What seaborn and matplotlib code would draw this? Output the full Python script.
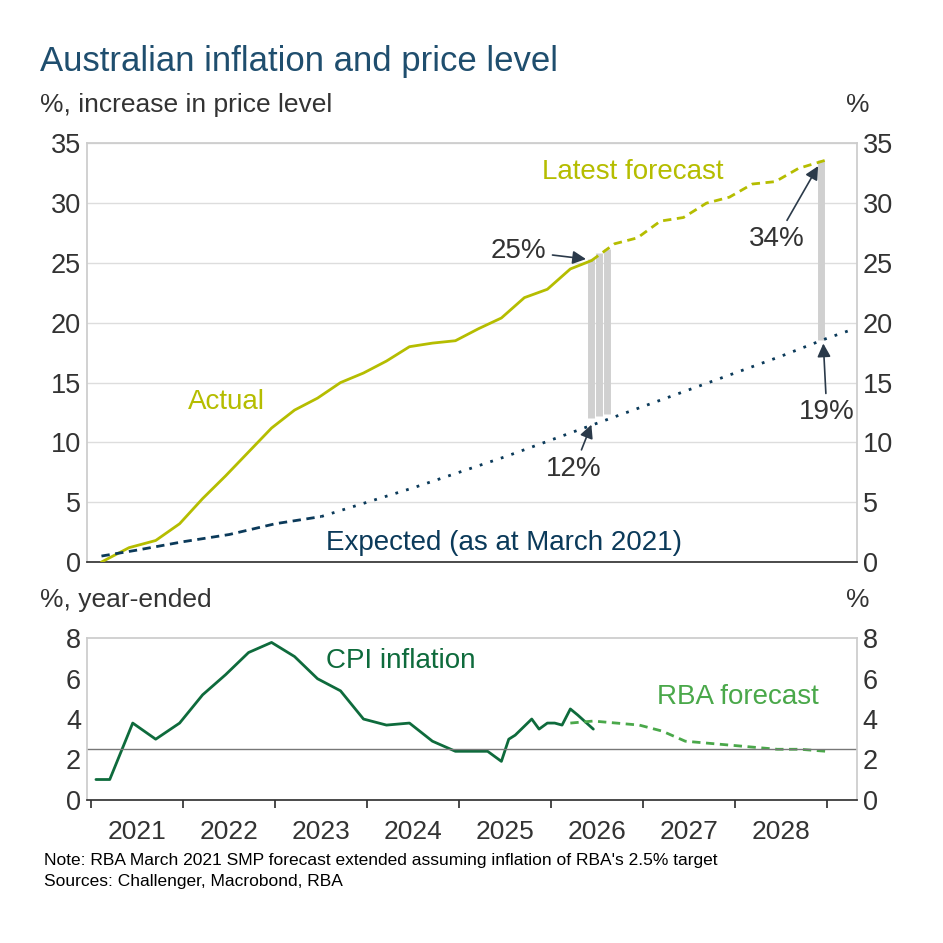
import matplotlib
matplotlib.use("Agg")
import matplotlib.pyplot as plt
import seaborn as sns
import pandas as pd

sns.set_theme(style="white")
plt.rcParams['font.family'] = ['Liberation Sans', 'DejaVu Sans']

actual_x = [2021.11,2021.41,2021.70,2021.96,2022.21,2022.46,2022.71,2022.96,2023.21,2023.46,2023.71,2023.96,2024.21,2024.46,2024.71,2024.96,2025.21,2025.46,2025.71,2025.96,2026.21,2026.44]
actual_y = [0,1.2,1.8,3.2,5.3,7.2,9.2,11.2,12.7,13.7,15.0,15.8,16.8,18.0,18.3,18.5,19.5,20.4,22.1,22.8,24.5,25.2]
fc_x = [2026.44,2026.69,2026.94,2027.19,2027.44,2027.69,2027.94,2028.19,2028.44,2028.69,2028.99]
fc_y = [25.2,26.6,27.1,28.5,28.8,30.0,30.5,31.6,31.8,32.9,33.6]
exp_dash_x = [2021.11,2021.5,2022.0,2022.5,2023.0,2023.5]
exp_dash_y = [0.5,1.0,1.7,2.3,3.2,3.8]
exp_dot_x = [2023.5,2024.0,2024.5,2025.0,2025.5,2026.0,2026.5,2027.0,2027.5,2028.0,2028.5,2029.0,2029.3]
exp_dot_y = [3.8,5.0,6.2,7.5,8.8,10.2,11.6,13.0,14.4,15.8,17.2,18.7,19.5]
gap_x = [2026.44,2026.52,2026.61,2028.94]
gap_lo = [12.0,12.2,12.4,18.6]
gap_hi = [25.3,25.8,26.2,33.6]

cpi_x = [2021.05,2021.2,2021.45,2021.7,2021.96,2022.21,2022.46,2022.71,2022.96,2023.21,2023.46,2023.71,2023.96,2024.21,2024.46,2024.71,2024.96,2025.21,2025.31,2025.46,2025.54,2025.61,2025.7,2025.79,2025.87,2025.96,2026.04,2026.12,2026.21,2026.29,2026.46]
cpi_y = [1.0,1.0,3.8,3.0,3.8,5.2,6.2,7.3,7.8,7.1,6.0,5.4,4.0,3.7,3.8,2.9,2.4,2.4,2.4,1.9,3.0,3.2,3.6,4.0,3.5,3.8,3.8,3.7,4.5,4.2,3.5]
rba_x = [2026.21,2026.46,2026.71,2026.96,2027.21,2027.46,2027.71,2027.96,2028.21,2028.46,2028.71,2028.99]
rba_y = [3.8,3.9,3.8,3.7,3.4,2.9,2.8,2.7,2.6,2.5,2.5,2.4]
years = [2021,2022,2023,2024,2025,2026,2027,2028]

olive = "#b5bd00"; navy = "#0b3a5a"; green = "#0e6b3c"; lgreen = "#4aa84a"; txt = "#333333"
fig = plt.figure(figsize=(9.43, 9.43), dpi=100)
ax1 = fig.add_axes([0.092, 0.404, 0.817, 0.444])
ax2 = fig.add_axes([0.092, 0.152, 0.817, 0.171])
xl = (2020.95, 2029.33)

for i in range(len(gap_x)):
    ax1.vlines(gap_x[i], gap_lo[i], gap_hi[i], color="#d0d0d0", lw=5, zorder=1)
sns.lineplot(x=actual_x, y=actual_y, ax=ax1, color=olive, lw=2, zorder=3)
sns.lineplot(x=fc_x, y=fc_y, ax=ax1, color=olive, lw=2, ls=(0,(3,2)), zorder=3)
sns.lineplot(x=exp_dash_x, y=exp_dash_y, ax=ax1, color=navy, lw=2, ls=(0,(3,2)), zorder=3)
sns.lineplot(x=exp_dot_x, y=exp_dot_y, ax=ax1, color=navy, lw=2, ls=(0,(1,3)), zorder=3)
ax1.set_xlim(*xl); ax1.set_ylim(0, 35)
ax1.set_yticks(range(0, 36, 5))
ax1.grid(axis="y", color="#dddddd", lw=1)
ax1.set_xticks([])

sns.lineplot(x=cpi_x, y=cpi_y, ax=ax2, color=green, lw=2)
sns.lineplot(x=rba_x, y=rba_y, ax=ax2, color=lgreen, lw=2, ls=(0,(3,2)))
ax2.axhline(2.5, color="#777777", lw=1)
ax2.set_xlim(*xl); ax2.set_ylim(0, 8)
ax2.set_yticks(range(0, 9, 2))
ax2.set_xticks(range(2021, 2030))
ax2.set_xticklabels([])
ax2.tick_params(axis="x", direction="out", length=6, color="#333333", bottom=True)
for y in years:
    ax2.text(y + 0.5, -1.0, str(y), ha="center", va="top", fontsize=19, color=txt)

for ax in (ax1, ax2):
    for s in ax.spines.values():
        s.set_color("#cccccc")
    ax.spines["bottom"].set_color("#333333")
    ax.tick_params(axis="y", labelsize=19.5, labelcolor=txt, length=0, pad=4)
    tw = ax.twinx(); tw.set_ylim(ax.get_ylim()); tw.set_yticks(ax.get_yticks())
    tw.tick_params(axis="y", labelsize=19.5, labelcolor=txt, length=0, pad=4)
    for s in tw.spines.values():
        s.set_visible(False)

fig.text(0.042, 0.935, "Australian inflation and price level", fontsize=25, color="#1f4e6e", va="center")
fig.text(0.042, 0.889, "%, increase in price level", fontsize=19, color=txt, va="center")
fig.text(0.91, 0.889, "%", fontsize=19, color=txt, va="center", ha="center")
fig.text(0.042, 0.364, "%, year-ended", fontsize=19, color=txt, va="center")
fig.text(0.91, 0.364, "%", fontsize=19, color=txt, va="center", ha="center")
fig.text(0.047, 0.083, "Note: RBA March 2021 SMP forecast extended assuming inflation of RBA's 2.5% target", fontsize=12.5, color="black")
fig.text(0.047, 0.060, "Sources: Challenger, Macrobond, RBA", fontsize=12.5, color="black")

ax1.text(2022.05, 12.8, "Actual", color=olive, fontsize=20)
ax1.text(2025.9, 32.0, "Latest forecast", color=olive, fontsize=20)
ax1.text(2023.55, 1.0, "Expected (as at March 2021)", color=navy, fontsize=20)
arr = dict(arrowstyle="-|>", color="#2b3a4a", lw=1.2)
ax1.annotate("25%", xy=(2026.41, 25.3), xytext=(2025.95, 26.0), fontsize=20, color=txt, ha="right", va="center", arrowprops=arr)
ax1.annotate("12%", xy=(2026.45, 11.7), xytext=(2026.25, 7.8), fontsize=20, color=txt, ha="center", va="center", arrowprops=arr)
ax1.annotate("34%", xy=(2028.92, 33.3), xytext=(2028.45, 27.0), fontsize=20, color=txt, ha="center", va="center", arrowprops=arr)
ax1.annotate("19%", xy=(2028.96, 18.5), xytext=(2029.0, 12.5), fontsize=20, color=txt, ha="center", va="center", arrowprops=arr)
ax2.text(2023.55, 6.9, "CPI inflation", color=green, fontsize=20, va="center")
ax2.text(2027.15, 5.1, "RBA forecast", color=lgreen, fontsize=20, va="center")

fig.savefig("out.png", dpi=100, facecolor="white")
